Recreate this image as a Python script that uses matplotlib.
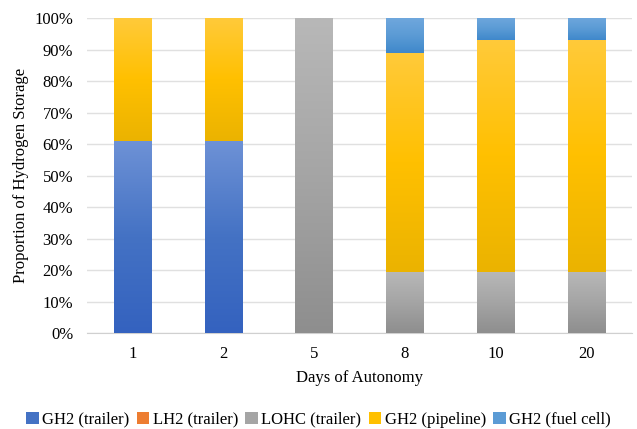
import matplotlib
matplotlib.use('Agg')
import matplotlib.pyplot as plt
import matplotlib.ticker as ticker
from matplotlib.colors import LinearSegmentedColormap
import numpy as np

DAYS = ['1', '2', '5', '8', '10', '20']
SERIES = ['GH2 (trailer)', 'LH2 (trailer)', 'LOHC (trailer)',
          'GH2 (pipeline)', 'GH2 (fuel cell)']
GH2_TRAILER = [61, 61, 0, 0, 0, 0]
LH2_TRAILER = [0, 0, 0, 0, 0, 0]
LOHC_TRAILER = [0, 0, 100, 19.5, 19.5, 19.5]
GH2_PIPELINE = [39, 39, 0, 69.5, 73.5, 73.5]
GH2_FUEL_CELL = [0, 0, 0, 11, 7, 7]

# (legend colour, gradient top, gradient bottom)
COLORS = [
    ('#4472C4', '#6E92D6', '#3462BF'),
    ('#ED7D31', '#F3A067', '#E06C1E'),
    ('#A5A5A5', '#B8B8B8', '#8E8E8E'),
    ('#FFC000', '#FFCA3A', '#EBB300'),
    ('#5B9BD5', '#6FA7DD', '#3F88CB'),
]

plt.rcParams['font.family'] = ['Liberation Serif', 'DejaVu Serif']

fig = plt.figure(figsize=(6.37, 4.29), dpi=100)
ax = fig.add_axes([0.1366, 0.223, 0.8555, 0.734])

x = np.arange(len(DAYS))
width = 0.41
bottom = np.zeros(len(DAYS))
handles = []
for name, vals, (base, top, low) in zip(
    SERIES, [GH2_TRAILER, LH2_TRAILER, LOHC_TRAILER, GH2_PIPELINE,
             GH2_FUEL_CELL], COLORS):
  vals = np.array(vals, dtype=float)
  bars = ax.bar(x, vals, width, bottom=bottom, color=base,
                label=name, zorder=2, linewidth=0)
  handles.append(bars)
  # Excel-style vertical gradient, clipped to each bar.
  cmap = LinearSegmentedColormap.from_list(name, [low, base, top])
  grad = np.linspace(0, 1, 256).reshape(-1, 1)
  for b in bars:
    if b.get_height() <= 0:
      continue
    x0, y0 = b.get_x(), b.get_y()
    im = ax.imshow(grad, cmap=cmap, aspect='auto', origin='lower',
                   extent=[x0, x0 + b.get_width(), y0,
                           y0 + b.get_height()], zorder=3)
    im.set_clip_path(b)
  bottom += vals

ax.set_xlim(-0.5, len(DAYS) - 0.5)
ax.set_ylim(0, 100)
ax.set_xticks(x)
ax.set_xticklabels(DAYS)
ax.set_yticks(np.arange(0, 101, 10))
ax.yaxis.set_major_formatter(ticker.FuncFormatter(lambda v, _: f'{v:.0f}%'))
ax.tick_params(length=0, labelsize=12, pad=10)
ax.tick_params(axis='x', pad=9)
ax.grid(axis='y', color='#E0E0E0', linewidth=1, zorder=0)
ax.set_axisbelow(True)
for s in ['top', 'right', 'left']:
  ax.spines[s].set_visible(False)
ax.spines['bottom'].set_color('#D0D0D0')

ax.set_xlabel('Days of Autonomy', fontsize=12, labelpad=6)
ax.set_ylabel('Proportion of Hydrogen Storage', fontsize=12, labelpad=4)

fig.legend(handles=handles, labels=SERIES, loc='lower center',
           bbox_to_anchor=(0.5, -0.032), ncol=5, frameon=False,
           fontsize=12, handlelength=0.75, handleheight=0.75,
           handletextpad=0.2, columnspacing=0.45)

fig.savefig('out.png', dpi=100)
